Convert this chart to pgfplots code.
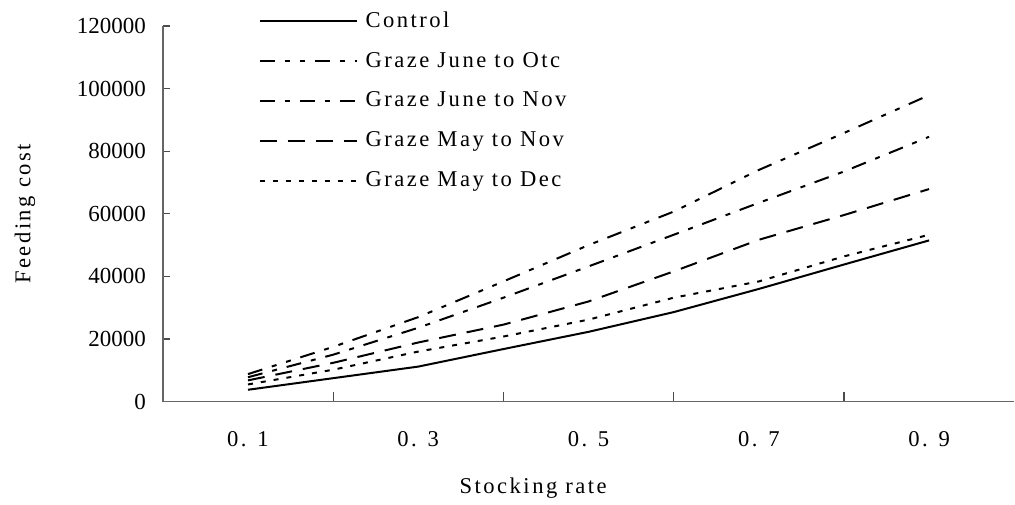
\documentclass[border=0pt]{standalone}
\usepackage{fontspec}
\setmainfont{Liberation Serif}[LetterSpace=11]
\newfontfamily\numfont{Liberation Serif}
\usepackage{pgfplots}
\pgfplotsset{compat=1.18}

\begin{document}
\begin{tikzpicture}[font=\fontsize{11.3}{13}\selectfont]
\begin{axis}[
    scale only axis,
    width=426pt, height=188pt,
    xmin=0, xmax=1,
    ymin=0, ymax=120000,
    axis x line=bottom, axis y line=left,
    axis line style={-, black!60, line width=0.8pt},
    tick style={black!70, line width=0.6pt},
    tick align=inside,
    xtick={0.1,0.3,0.5,0.7,0.9},
    xticklabels={0. 1, 0. 3, 0. 5, 0. 7, 0. 9},
    major x tick style={draw=none},
    minor xtick={0.2,0.4,0.6,0.8},
    minor tick length=5pt,
    major tick length=3.5pt,
    ytick={0,20000,40000,60000,80000,100000,120000},
    scaled y ticks=false,
    /pgf/number format/fixed,
    /pgf/number format/1000 sep={},
    /pgf/number format/assume math mode=true,
    yticklabel style={xshift=-5pt, font=\fontsize{11.5}{13}\numfont},
    xticklabel style={anchor=center, yshift=-19pt},
    xlabel={Stocking rate},
    ylabel={Feeding cost},
    xlabel style={at={(axis description cs:0.435,-0.229)}, anchor=center},
    ylabel style={at={(axis description cs:-0.162,0.5)}, anchor=center},
    legend cell align=left,
    legend style={draw=none, fill=none, inner sep=0pt,
                  at={(axis description cs:0.112,1.045)}, anchor=north west,
                  nodes={inner sep=1pt}, row sep=9pt,
                  /tikz/every odd column/.append style={column sep=3pt}},
    legend image code/.code={\draw[#1] (0pt,0pt) -- (48.5pt,0pt);},
    every axis plot/.append style={line width=1pt, black},
    clip=false,
]
\addplot[solid] coordinates {
    (0.1,3800) (0.2,7500) (0.3,11200) (0.4,16800) (0.5,22300)
    (0.6,28600) (0.7,36000) (0.8,43800) (0.9,51500)};
\addlegendentry{Control}
\addplot[dash pattern=on 7.5pt off 5pt on 2.5pt off 5pt on 2.5pt off 5pt] coordinates {
    (0.1,8800) (0.2,17500) (0.3,27000) (0.4,38400) (0.5,50000)
    (0.6,60700) (0.7,74000) (0.8,85800) (0.9,97900)};
\addlegendentry{Graze June to Otc}
\addplot[dash pattern=on 7.5pt off 5pt on 2.5pt off 5pt] coordinates {
    (0.1,7800) (0.2,15000) (0.3,23600) (0.4,33200) (0.5,43200)
    (0.6,53300) (0.7,63500) (0.8,73500) (0.9,84600)};
\addlegendentry{Graze June to Nov}
\addplot[dash pattern=on 8.5pt off 5.5pt] coordinates {
    (0.1,6800) (0.2,12400) (0.3,18900) (0.4,24600) (0.5,32000)
    (0.6,41600) (0.7,51700) (0.8,59600) (0.9,67900)};
\addlegendentry{Graze May to Nov}
\addplot[dash pattern=on 2.5pt off 4pt] coordinates {
    (0.1,5500) (0.2,10200) (0.3,16000) (0.4,20800) (0.5,26200)
    (0.6,33200) (0.7,38400) (0.8,46400) (0.9,53300)};
\addlegendentry{Graze May to Dec}
\path (axis description cs:-0.1913,-0.2713) rectangle (axis description cs:1,1.0691);
\end{axis}
\end{tikzpicture}
\end{document}
